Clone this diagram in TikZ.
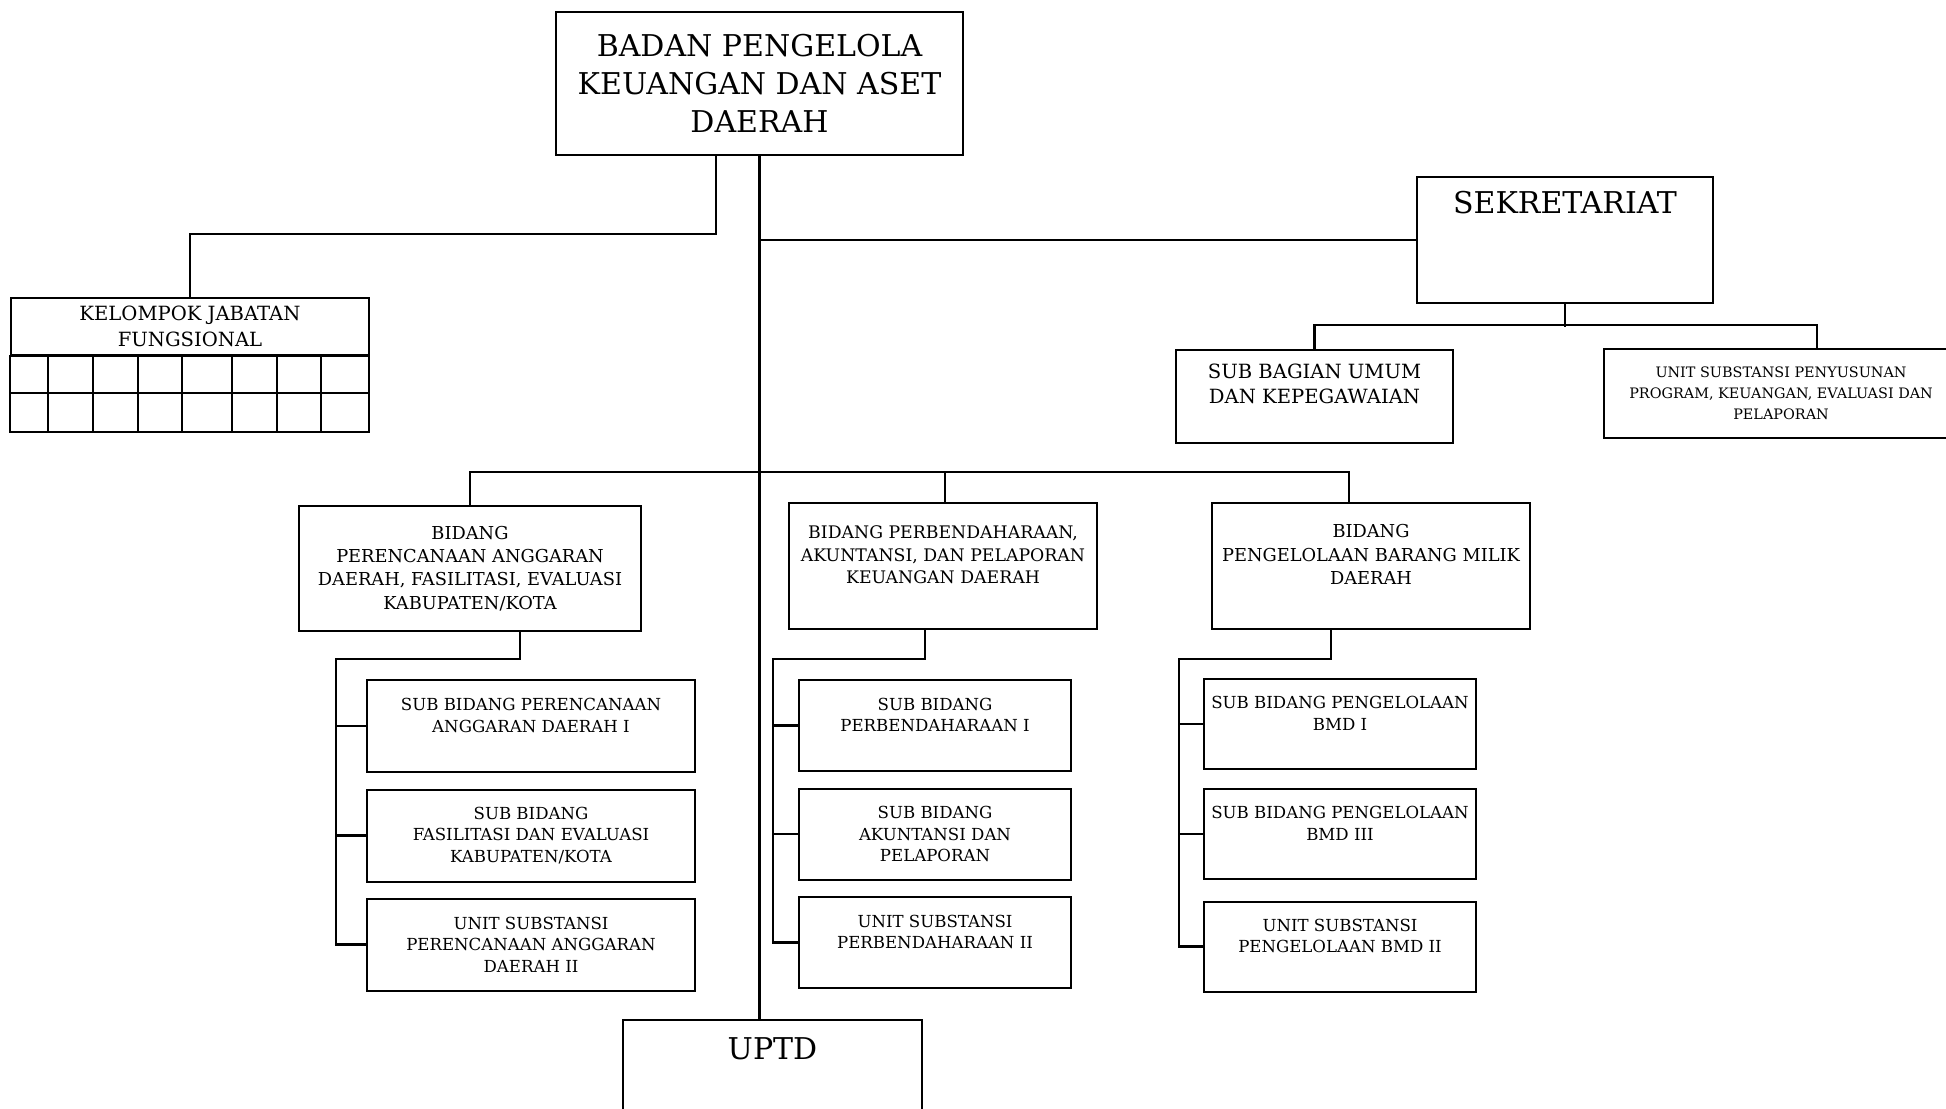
\documentclass[tikz,border=0pt]{standalone}
\usepackage{fontspec}
\setmainfont{DejaVu Serif}

\begin{document}
\begin{tikzpicture}[x=0.5pt,y=-0.5pt,
    box/.style 2 args = {draw,line width=1pt,align=center,inner sep=0pt,minimum width=#1,minimum height=#2},
    conn/.style = {line width=1.2pt},
    bigtxt/.style = {font=\fontsize{15}{19}\selectfont},
    midtxt/.style = {font=\fontsize{9.8}{12.8}\selectfont},
    bidtxt/.style = {font=\fontsize{8.9}{11.6}\selectfont},
    subtxt/.style = {font=\fontsize{8.3}{10.8}\selectfont},
    tinytxt/.style = {font=\fontsize{7.2}{10.5}\selectfont}]
\useasboundingbox (0,0) rectangle (1946,1108);

% top level
\node[box={203.5pt}{71.5pt},bigtxt] (main) at (759.5,83.5) {BADAN PENGELOLA\\KEUANGAN DAN ASET\\DAERAH};
\node[box={179pt}{28.5pt},midtxt] (kjf) at (190,326.5) {KELOMPOK JABATAN\\FUNGSIONAL};
\node[box={148pt}{63pt},bigtxt] (sek) at (1565,240) {SEKRETARIAT\\~\\~};
\node[box={138.5pt}{46.5pt},midtxt] (sbu) at (1314.5,396.5) {SUB BAGIAN UMUM\\DAN KEPEGAWAIAN\\~};
\node[box={177pt}{44.5pt},tinytxt] (usp) at (1781,393.5) {UNIT SUBSTANSI PENYUSUNAN\\PROGRAM, KEUANGAN, EVALUASI DAN\\PELAPORAN};
\node[box={149.5pt}{67pt},bigtxt] (uptd) at (772.5,1087) {UPTD\\~\\~};

% grid under kelompok jabatan fungsional
\draw[line width=1pt] (kjf.south west) rectangle (369,432);
\draw[line width=1pt] (11,393) -- (369,393);
\foreach \x in {48,93,138,182,232,277,321} \draw[line width=1pt] (\x,355) -- (\x,432);

% bidang
\node[box={171pt}{62.5pt},bidtxt] (bid1) at (470,568.5) {BIDANG\\PERENCANAAN ANGGARAN\\DAERAH, FASILITASI, EVALUASI\\KABUPATEN/KOTA};
\node[box={154pt}{63pt},bidtxt,font=\fontsize{8.65}{11.2}\selectfont] (bid2) at (943,566) {BIDANG PERBENDAHARAAN,\\AKUNTANSI, DAN PELAPORAN\\KEUANGAN DAERAH\\~};
\node[box={159pt}{63pt},bidtxt] (bid3) at (1371,566) {BIDANG\\PENGELOLAAN BARANG MILIK\\DAERAH\\~};

% sub bidang
\node[box={164pt}{46pt},subtxt] (s11) at (531,726) {SUB BIDANG PERENCANAAN\\ANGGARAN DAERAH I\\~};
\node[box={164pt}{46pt},subtxt] (s12) at (531,835.5) {SUB BIDANG\\FASILITASI DAN EVALUASI\\KABUPATEN/KOTA};
\node[box={164pt}{46pt},subtxt] (s13) at (531,944.5) {UNIT SUBSTANSI\\PERENCANAAN ANGGARAN\\DAERAH II};
\node[box={136pt}{45.5pt},subtxt] (s21) at (935,725.5) {SUB BIDANG\\PERBENDAHARAAN I\\~};
\node[box={136pt}{45.5pt},subtxt] (s22) at (935,834) {SUB BIDANG\\AKUNTANSI DAN\\PELAPORAN};
\node[box={136pt}{45.5pt},subtxt] (s23) at (935,942.5) {UNIT SUBSTANSI\\PERBENDAHARAAN II\\~};
\node[box={136pt}{45pt},subtxt] (s31) at (1340,724) {SUB BIDANG PENGELOLAAN\\BMD I\\~};
\node[box={136pt}{45pt},subtxt] (s32) at (1340,834) {SUB BIDANG PENGELOLAAN\\BMD III\\~};
\node[box={136pt}{45pt},subtxt] (s33) at (1340,946.5) {UNIT SUBSTANSI\\PENGELOLAAN BMD II\\~};

% connectors
\draw[conn] (main.south) -- (main.south |- uptd.north);
\draw[conn] ([xshift=-21.75pt]main.south) -- ++(0,78) -| (kjf.north);
\draw[conn] (main.south |- sek.west) -- (sek.west);
\draw[conn] (sek.south) -- ++(0,23);
\draw[conn] (sbu.north) -- ++(0,-24) -| ([xshift=18pt]usp.north);
\draw[conn] (bid1.north) -- ++(0,-33) -| ([xshift=-11pt]bid3.north);
\draw[conn] ([xshift=1pt]bid2.north) -- ++(0,-30);

\coordinate (t1) at (336,659);
\coordinate (t2) at (773,659);
\coordinate (t3) at (1179,659);
\draw[conn] ([xshift=25pt]bid1.south) |- (t1) |- (s13.west);
\draw[conn] ([xshift=-9pt]bid2.south) |- (t2) |- (s23.west);
\draw[conn] ([xshift=-20pt]bid3.south) |- (t3) |- (s33.west);
\foreach \s in {s11,s12} \draw[conn] (t1 |- \s.west) -- (\s.west);
\foreach \s in {s21,s22} \draw[conn] (t2 |- \s.west) -- (\s.west);
\foreach \s in {s31,s32} \draw[conn] (t3 |- \s.west) -- (\s.west);
\end{tikzpicture}
\end{document}
